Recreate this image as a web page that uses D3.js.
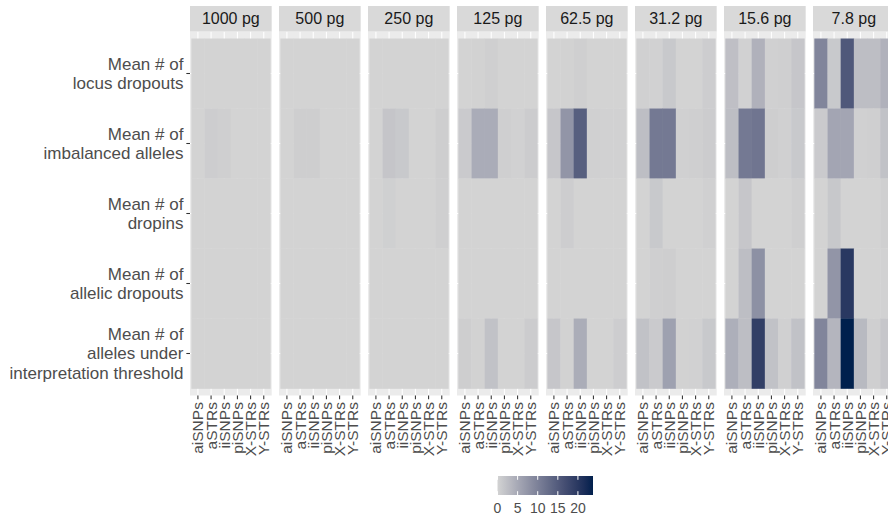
<!DOCTYPE html>
<html>
<head>
<meta charset="utf-8">
<script src="https://cdn.jsdelivr.net/npm/d3@7"></script>
<style>
  html, body { margin: 0; padding: 0; background: #fff; }
  svg { display: block; font-family: "Liberation Sans", Arial, sans-serif; }
</style>
</head>
<body>
<svg id="chart" width="888" height="517"></svg>
<script>
// Facets: input DNA amount
const amounts = ["1000 pg", "500 pg", "250 pg", "125 pg", "62.5 pg", "31.2 pg", "15.6 pg", "7.8 pg"];
// Columns inside each facet: marker panels
const markers = ["aiSNPs", "aSTRs", "iiSNPs", "piSNPs", "X-STRs", "Y-STRs"];
// Rows: metric labels (lines split by \n)
const metrics = [
  "Mean # of\nlocus dropouts",
  "Mean # of\nimbalanced alleles",
  "Mean # of\ndropins",
  "Mean # of\nallelic dropouts",
  "Mean # of\nalleles under\ninterpretation threshold"
];
const legendTicks = [0, 5, 10, 15, 20];

// Mean counts per facet: one row per metric, one value per marker panel
const values1000 = [
  [0, 0, 0, 0, 0, 0],
  [0, 0.7, 0.5, 0, 0, 0],
  [0, 0, 0, 0, 0, 0],
  [0, 0, 0, 0, 0, 0],
  [0, 0, 0, 0, 0, 0]
];
const values500 = [
  [0, 0, 0, 0, 0, 0],
  [0, 0.6, 0.6, 0, 0, 0],
  [0, 0, 0, 0, 0, 0],
  [0, 0, 0, 0, 0, 0],
  [0, 0, 0, 0, 0, 0]
];
const values250 = [
  [0, 0, 0, 0, 0, 0],
  [0, 1.6, 1.2, 0, 0, 0.6],
  [0, 0.4, 0, 0, 0, 0.5],
  [0, 0, 0, 0, 0, 0],
  [0, 0, 0, 0, 0, 0]
];
const values125 = [
  [0, 0.1, 0.5, 0, 0, 0],
  [1.0, 4.6, 4.6, 0.5, 0.2, 0.8],
  [0, 0, 0, 0, 0, 0],
  [0, 0, 0, 0, 0, 0],
  [0.6, 0.1, 2.0, 0, 0, 0.8]
];
const values62 = [
  [0, 0.1, 0.5, 0, 0, 0],
  [1.5, 7.5, 14.5, 0.3, 0.2, 0.2],
  [0, 0.7, 0, 0, 0, 0],
  [0, 0, 0, 0, 0, 0],
  [1.5, 0.1, 4.5, 0, 0, 0.7]
];
const values31 = [
  [0.3, 0.2, 1.2, 0, 0, 0.7],
  [2.5, 11.0, 11.0, 0.3, 0.5, 0.8],
  [0, 1.2, 0, 0, 0, 0.3],
  [0, 0.5, 0.6, 0, 0, 0],
  [2.0, 1.0, 6.0, 0.1, 0.2, 1.2]
];
const values15 = [
  [2.3, 0.2, 4.0, 0.3, 0.5, 1.5],
  [2.5, 11.0, 11.5, 0.6, 0.3, 1.2],
  [0, 1.5, 0, 0, 0, 0.5],
  [0, 2.5, 8.0, 0, 0, 0],
  [4.3, 2.5, 19.0, 2.0, 0.3, 2.0]
];
const values7 = [
  [9.5, 1.2, 15.5, 2.5, 2.5, 4.0],
  [1.0, 5.5, 5.5, 0.3, 0.5, 2.0],
  [0, 1.3, 0, 0, 0, 0.5],
  [0, 7.5, 20.0, 0, 0, 0.2],
  [9.5, 3.5, 23.75, 3.0, 0.5, 1.5]
];
const facetValues = [values1000, values500, values250, values125, values62, values31, values15, values7];

// Flatten into tidy records for drawing
const cells = [];
facetValues.forEach((grid, fi) => {
  grid.forEach((row, ri) => {
    row.forEach((v, ci) => {
      cells.push({ amount: amounts[fi], metric: metrics[ri], marker: markers[ci], value: v });
    });
  });
});

const svg = d3.select("#chart");

// Layout
const plotLeft = 190;
const panelSpacing = 7.33;
const panelW = 81.67;
const panelTop = 31.5;
const panelBottom = 395.5;
const stripTop = 6;
const tickLen = 3.67;
const textGap = 2.93;

const maxVal = d3.max(cells, d => d.value);
const color = d3.scaleLinear()
  .domain([0, maxVal])
  .range(["#D3D3D3", "#00204D"])
  .interpolate(d3.interpolateLab);

const facetX = d3.scaleBand()
  .domain(amounts)
  .range([plotLeft, plotLeft + amounts.length * panelW + (amounts.length - 1) * panelSpacing])
  .paddingInner(panelSpacing / (panelW + panelSpacing))
  .paddingOuter(0);

const y = d3.scaleBand()
  .domain(metrics)
  .range([panelTop, panelBottom])
  .paddingInner(0)
  .paddingOuter(0.1);

const x = d3.scaleBand()
  .domain(markers)
  .range([0, panelW])
  .paddingInner(0)
  .paddingOuter(0.1);

const axisColor = "#4D4D4D";
const tickColor = "#333333";

amounts.forEach(amount => {
  const g = svg.append("g").attr("transform", `translate(${facetX(amount)},0)`);

  // panel background
  g.append("rect")
    .attr("x", 0).attr("y", panelTop)
    .attr("width", panelW).attr("height", panelBottom - panelTop)
    .attr("fill", "#EBEBEB");

  // grid lines
  g.selectAll(".vgrid").data(markers).join("line")
    .attr("x1", d => x(d) + x.bandwidth() / 2).attr("x2", d => x(d) + x.bandwidth() / 2)
    .attr("y1", panelTop).attr("y2", panelBottom)
    .attr("stroke", "#fff").attr("stroke-width", 1.07);
  g.selectAll(".hgrid").data(metrics).join("line")
    .attr("x1", 0).attr("x2", panelW)
    .attr("y1", d => y(d) + y.bandwidth() / 2).attr("y2", d => y(d) + y.bandwidth() / 2)
    .attr("stroke", "#fff").attr("stroke-width", 1.07);

  // tiles
  g.selectAll(".tile").data(cells.filter(c => c.amount === amount)).join("rect")
    .attr("x", d => x(d.marker))
    .attr("y", d => y(d.metric))
    .attr("width", x.bandwidth() + 0.3)
    .attr("height", y.bandwidth() + 0.3)
    .attr("fill", d => color(d.value));

  // strip
  g.append("rect")
    .attr("x", 0).attr("y", stripTop)
    .attr("width", panelW).attr("height", panelTop - stripTop)
    .attr("fill", "#D9D9D9");
  g.append("text")
    .attr("x", panelW / 2).attr("y", (stripTop + panelTop) / 2)
    .attr("text-anchor", "middle").attr("dominant-baseline", "central")
    .attr("font-size", 16).attr("fill", "#1A1A1A")
    .text(amount);

  // bottom axis
  const ax = g.append("g")
    .attr("transform", `translate(0,${panelBottom})`)
    .call(d3.axisBottom(x).tickSize(tickLen).tickPadding(textGap));
  ax.select(".domain").remove();
  ax.selectAll(".tick line").attr("stroke", tickColor).attr("stroke-width", 1.07);
  ax.selectAll(".tick text")
    .attr("fill", axisColor)
    .attr("font-size", 15.5)
    .attr("font-family", "Liberation Sans, Arial, sans-serif")
    .attr("transform", "rotate(-90)")
    .attr("x", -(tickLen + textGap))
    .attr("y", 0)
    .attr("dy", "0.35em")
    .attr("text-anchor", "end");
});

// left axis with multi-line labels
const ay = svg.append("g")
  .attr("transform", `translate(${plotLeft},0)`)
  .call(d3.axisLeft(y).tickSize(tickLen).tickPadding(textGap).tickFormat(""));
ay.select(".domain").remove();
ay.selectAll(".tick line").attr("stroke", tickColor).attr("stroke-width", 1.07);
const lineH = 19.5;
ay.selectAll(".tick").each(function(d) {
  const lines = d.split("\n");
  const t = d3.select(this).select("text")
    .attr("fill", axisColor)
    .attr("font-size", 17)
    .attr("font-family", "Liberation Sans, Arial, sans-serif")
    .attr("x", -(tickLen + textGap))
    .attr("text-anchor", "end")
    .attr("dy", null);
  t.selectAll("tspan").data(lines).join("tspan")
    .attr("x", -(tickLen + textGap))
    .attr("y", (l, i) => (i - (lines.length - 1) / 2) * lineH)
    .attr("dy", "0.35em")
    .text(l => l);
});

// colour bar legend
const legX0 = 497.5, legX1 = 593, legY0 = 476, legY1 = 495;
const defs = svg.append("defs");
const grad = defs.append("linearGradient").attr("id", "fillGrad")
  .attr("x1", "0%").attr("x2", "100%").attr("y1", "0%").attr("y2", "0%");
d3.range(0, 1.0001, 0.05).forEach(t => {
  grad.append("stop").attr("offset", `${t * 100}%`).attr("stop-color", color(t * maxVal));
});
svg.append("rect")
  .attr("x", legX0).attr("y", legY0)
  .attr("width", legX1 - legX0).attr("height", legY1 - legY0)
  .attr("fill", "url(#fillGrad)");
const legScale = d3.scaleLinear().domain([0, maxVal]).range([legX0, legX1]);
const barH = legY1 - legY0;
svg.selectAll(".legTickTop").data(legendTicks).join("line")
  .attr("x1", d => legScale(d)).attr("x2", d => legScale(d))
  .attr("y1", legY0).attr("y2", legY0 + barH / 5)
  .attr("stroke", "#fff").attr("stroke-width", 1);
svg.selectAll(".legTickBot").data(legendTicks).join("line")
  .attr("x1", d => legScale(d)).attr("x2", d => legScale(d))
  .attr("y1", legY1 - barH / 5).attr("y2", legY1)
  .attr("stroke", "#fff").attr("stroke-width", 1);
svg.selectAll(".legLab").data(legendTicks).join("text")
  .attr("x", d => legScale(d)).attr("y", legY1 + 13)
  .attr("text-anchor", "middle").attr("dominant-baseline", "central")
  .attr("font-size", 14).attr("fill", axisColor)
  .text(d => d);
</script>
</body>
</html>
